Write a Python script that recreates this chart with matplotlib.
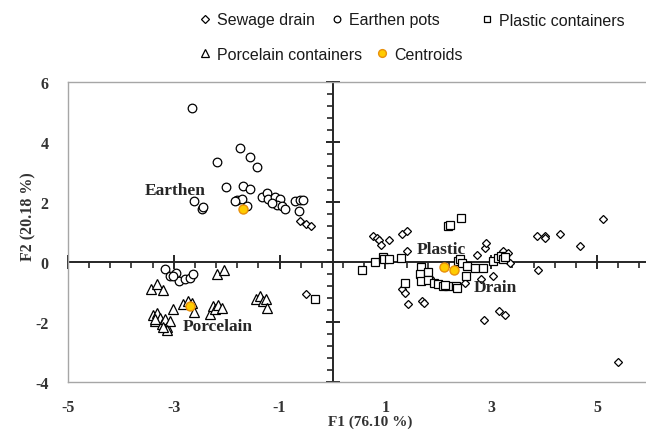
import numpy as np
import matplotlib.pyplot as plt
from matplotlib.ticker import FixedLocator, AutoMinorLocator
from matplotlib.lines import Line2D

plt.rcParams['axes.unicode_minus'] = False

# PCA scores
sewage_x = [-0.61, -0.50, -0.41, -0.50, 0.76, 0.84, 0.88, 0.91, 1.07, 1.31, 1.41, 1.41,
            1.31, 1.37, 1.43, 1.70, 1.72, 1.84, 2.50, 2.74, 2.88, 2.91, 2.80, 3.03, 3.23,
            3.32, 3.36, 2.86, 3.14, 3.26, 3.87, 4.01, 4.02, 4.30, 3.89, 4.68, 5.11, 5.40]
sewage_y = [1.36, 1.28, 1.19, -1.08, 0.86, 0.81, 0.75, 0.58, 0.72, 0.95, 1.03, 0.36,
            -0.91, -1.02, -1.41, -1.30, -1.35, -0.52, -0.71, 0.22, 0.47, 0.64, -0.58, -0.47, 0.36,
            0.29, -0.03, -1.92, -1.64, -1.75, 0.87, 0.87, 0.80, 0.95, -0.27, 0.53, 1.44, -3.33]

earthen_x = [-2.66, -1.75, -1.56, -1.43, -2.19, -2.02, -1.69, -1.56, -2.62, -2.47, -2.44,
             -1.81, -1.72, -1.62, -1.84, -1.34, -1.24, -1.21, -1.09, -0.99, -1.05, -0.96,
             -0.90, -1.15, -0.71, -0.61, -0.55, -0.63,
             -3.17, -3.07, -2.95, -2.91, -2.79, -2.69, -2.64, -3.01]
earthen_y = [5.13, 3.80, 3.50, 3.17, 3.35, 2.50, 2.54, 2.43, 2.02, 1.77, 1.82,
             2.08, 2.10, 1.86, 2.02, 2.17, 2.30, 2.10, 2.17, 2.10, 1.91, 1.86,
             1.77, 1.97, 2.02, 2.08, 2.06, 1.69,
             -0.22, -0.45, -0.36, -0.63, -0.58, -0.52, -0.41, -0.47]

plastic_x = [-0.33, 0.55, 0.80, 0.95, 0.97, 1.07, 1.29, 1.37, 1.67, 1.65, 1.81, 1.68, 1.81,
             1.91, 2.00, 2.09, 2.19, 2.33, 2.35, 2.13, 2.19, 2.22, 2.42, 2.38, 2.41, 2.44,
             2.54, 2.52, 2.70, 2.85, 3.03, 3.13, 3.18, 3.23, 3.27]
plastic_y = [-1.24, -0.27, 0.00, 0.18, 0.09, 0.09, 0.12, -0.71, -0.16, -0.41, -0.34, -0.63, -0.61,
             -0.69, -0.74, -0.80, -0.80, -0.80, -0.88, -0.76, 1.19, 1.25, 1.47, 0.03, 0.09, -0.02,
             -0.12, -0.47, -0.19, -0.19, 0.03, 0.12, 0.20, 0.09, 0.17]

porcelain_x = [-2.19, -2.06, -3.44, -3.31, -3.21, -3.02, -2.82, -2.73, -2.66, -2.61,
               -2.32, -2.25, -2.22, -2.16, -2.08, -1.45, -1.37, -1.31, -1.26, -1.23,
               -3.40, -3.32, -3.36, -3.26, -3.23, -3.17, -3.13, -3.07, -3.12, -3.20, -3.35]
porcelain_y = [-0.41, -0.27, -0.89, -0.74, -0.93, -1.55, -1.41, -1.30, -1.35, -1.68,
               -1.74, -1.47, -1.55, -1.44, -1.52, -1.22, -1.13, -1.30, -1.24, -1.54,
               -1.77, -1.71, -1.96, -1.85, -2.07, -1.91, -2.18, -1.96, -2.26, -2.15, -1.90]

centroid_names = ['Earthen', 'Porcelain', 'Plastic', 'Drain']
centroid_x = [-1.70, -2.69, 2.11, 2.30]
centroid_y = [1.77, -1.46, -0.16, -0.25]
label_x = [-2.98, -2.17, 2.05, 3.07]
label_y = [2.41, -2.15, 0.42, -0.85]

serif = 'Liberation Serif'
txt_col = '#333333'

fig = plt.figure(figsize=(6.46, 4.31), dpi=100)
W, H = 646, 431
x0, x1 = -5, 6.2
y0, y1 = -4, 6
left, right, top, bottom = 68, 660.5, 83, 383
pos = [left / W, 1 - bottom / H, (right - left) / W, (bottom - top) / H]

ax = fig.add_axes(pos)
ax.set_xlim(x0, x1)
ax.set_ylim(y0, y1)
for s in ax.spines.values():
    s.set_color('#a6a6a6')
    s.set_linewidth(1.0)
ax.set_xticks(np.arange(-5, 6, 2))
ax.set_yticks(np.arange(-4, 7, 2))
ax.tick_params(length=0, labelsize=11.5, labelcolor=txt_col)
ax.tick_params(axis='x', pad=12)
ax.tick_params(axis='y', pad=14)
for lab in ax.get_xticklabels() + ax.get_yticklabels():
    lab.set_fontfamily(serif)
    lab.set_fontweight('bold')
ax.set_xlabel('F1 (76.10 %)', fontsize=11, fontfamily=serif, fontweight='bold', color=txt_col)
ax.set_ylabel('F2 (20.18 %)', fontsize=11.5, fontfamily=serif, fontweight='bold', color=txt_col)
ax.xaxis.set_label_coords((370 - left) / (right - left), -(416 - bottom) / (bottom - top))
ax.yaxis.set_label_coords(-(68 - 36) / (right - left), 1 - (217 - top) / (bottom - top))

# axes crossing at the origin, with their own ticks
ax2 = fig.add_axes(pos, facecolor='none')
ax2.set_xlim(x0, x1)
ax2.set_ylim(y0, y1)
ax2.spines['left'].set_position(('data', 0))
ax2.spines['bottom'].set_position(('data', 0))
ax2.spines['right'].set_visible(False)
ax2.spines['top'].set_visible(False)
for s in ['left', 'bottom']:
    ax2.spines[s].set_color('#262626')
    ax2.spines[s].set_linewidth(1.4)
ax2.xaxis.set_major_locator(FixedLocator(np.arange(-5, 6, 2)))
ax2.yaxis.set_major_locator(FixedLocator(np.arange(-4, 7, 2)))
ax2.xaxis.set_minor_locator(AutoMinorLocator(5))
ax2.yaxis.set_minor_locator(AutoMinorLocator(5))
ax2.tick_params(which='major', direction='inout', length=10, width=1.4, color='#262626',
                labelbottom=False, labelleft=False)
ax2.tick_params(which='minor', direction='out', length=4, width=1.2, color='#262626')
ax2.set_zorder(1)
ax.set_zorder(2)
ax.patch.set_visible(False)

mk = dict(linestyle='none', markerfacecolor='white', markeredgecolor='black', markeredgewidth=0.9)
ax.plot(sewage_x, sewage_y, marker='D', markersize=4.0, **mk)
ax.plot(earthen_x, earthen_y, marker='o', markersize=6.2, **mk)
ax.plot(plastic_x, plastic_y, marker='s', markersize=6.0, **mk)
ax.plot(porcelain_x, porcelain_y, marker='^', markersize=7.2, **mk)
ax.plot(centroid_x, centroid_y, linestyle='none', marker='o', markersize=6.5,
        markerfacecolor='#ffcc00', markeredgecolor='#e8900c', markeredgewidth=1.0)

for name, lx, ly in zip(centroid_names, label_x, label_y):
    ax.text(lx, ly, name, ha='center', va='center', fontsize=12.5, fontfamily=serif,
            fontweight='bold', color='#262626')

# legend entries placed like the original two-row legend
leg_items = [
    ('Sewage drain', dict(marker='D', markersize=3.6, **mk), 205, 21),
    ('Earthen pots', dict(marker='o', markersize=4.8, **mk), 337, 21),
    ('Plastic containers', dict(marker='s', markersize=4.8, **mk), 487, 21),
    ('Porcelain containers', dict(marker='^', markersize=5.6, **mk), 205, 55),
    ('Centroids', dict(marker='o', markersize=5.6, linestyle='none', markerfacecolor='#ffcc00',
                       markeredgecolor='#e8900c', markeredgewidth=1.0), 382, 55),
]
for text, style, mx, my in leg_items:
    h = Line2D([], [], **style)
    fig.legend([h], [text], loc='center left', bbox_to_anchor=((mx - 8) / W, 1 - my / H),
               frameon=False, borderpad=0, borderaxespad=0, handlelength=1.0,
               handletextpad=0.25, prop={'family': 'Liberation Sans', 'size': 11.5},
               labelcolor='#1a1a1a')

fig.savefig('out.png', dpi=100)
